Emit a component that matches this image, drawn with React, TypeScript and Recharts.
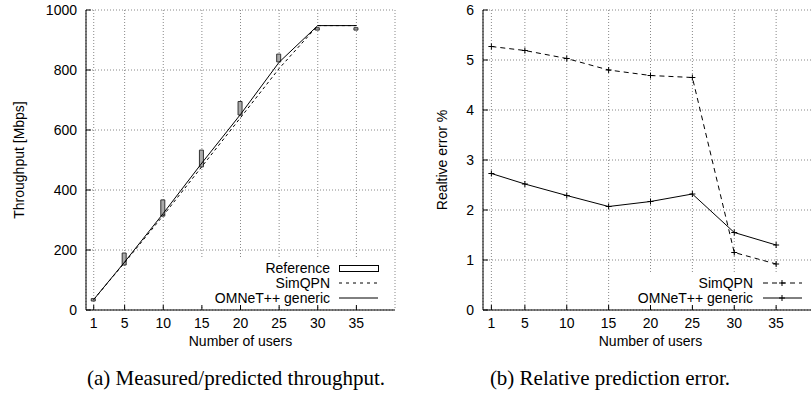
import React from "react";
import { ComposedChart, Line, Bar, XAxis, YAxis, CartesianGrid, Legend } from "recharts";

// number of users on the x axis
const users = [1, 5, 10, 15, 20, 25, 30, 35];

// measured throughput, min/max of the candlestick boxes [Mbps]
const referenceLow = [30, 150, 313, 477, 650, 827, 933, 933];
const referenceHigh = [38, 190, 367, 533, 695, 853, 941, 941];

// predicted throughput [Mbps]
const simqpnThroughput = [35, 158, 315, 478, 641, 805, 948, 948];
const omnetThroughput = [35, 160, 322, 490, 652, 826, 948, 948];

// relative prediction error [%]
const simqpnError = [5.27, 5.19, 5.03, 4.8, 4.69, 4.65, 1.15, 0.92];
const omnetError = [2.73, 2.52, 2.29, 2.07, 2.17, 2.32, 1.55, 1.3];

const xTicks = [1, 5, 10, 15, 20, 25, 30, 35];
const throughputTicks = [0, 200, 400, 600, 800, 1000];
const errorTicks = [0, 1, 2, 3, 4, 5, 6];

const SANS = "'Liberation Sans', Arial, Helvetica, sans-serif";
const SERIF = "'Liberation Serif', 'Times New Roman', serif";

const throughputData = users.map((u, i) => ({
  users: u,
  reference: [referenceLow[i], referenceHigh[i]],
  simqpn: simqpnThroughput[i],
  omnet: omnetThroughput[i],
}));

const errorData = users.map((u, i) => ({
  users: u,
  simqpn: simqpnError[i],
  omnet: omnetError[i],
}));

const tickStyle = { fill: "#000", fontSize: 14, fontFamily: SANS };

const PlusDot = (props: any) => {
  const { cx, cy, index } = props;
  if (cx == null || cy == null) return <g key={index} />;
  return (
    <path
      key={index}
      d={`M${cx - 3},${cy}h6M${cx},${cy - 3}v6`}
      stroke="#000"
      strokeWidth={1}
      fill="none"
    />
  );
};

// gnuplot style key: white box, text right aligned, sample on the right
const ThroughputKey = () => (
  <svg width={214} height={46} style={{ display: "block", overflow: "visible" }}>
    <g fontFamily={SANS} fontSize={14} fill="#000" textAnchor="end">
      <text x={150} y={9} dominantBaseline="central">Reference</text>
      <text x={150} y={24} dominantBaseline="central">SimQPN</text>
      <text x={150} y={39} dominantBaseline="central">OMNeT++ generic</text>
    </g>
    <rect x={159.5} y={6.5} width={39} height={6} fill="none" stroke="#000" />
    <line x1={159} x2={198} y1={24} y2={24} stroke="#000" strokeDasharray="3 4" />
    <line x1={159} x2={198} y1={39} y2={39} stroke="#000" />
  </svg>
);

const ErrorKey = () => (
  <svg width={200} height={31} style={{ display: "block", overflow: "visible" }}>
    <g fontFamily={SANS} fontSize={14} fill="#000" textAnchor="end">
      <text x={128} y={9} dominantBaseline="central">SimQPN</text>
      <text x={128} y={24} dominantBaseline="central">OMNeT++ generic</text>
    </g>
    <line x1={138} x2={177} y1={9} y2={9} stroke="#000" strokeDasharray="5 4" />
    <path d="M154,9h6M157,6v6" stroke="#000" />
    <line x1={138} x2={177} y1={24} y2={24} stroke="#000" />
    <path d="M154,24h6M157,21v6" stroke="#000" />
  </svg>
);

function ThroughputChart() {
  return (
    <ComposedChart
      width={400}
      height={360}
      data={throughputData}
      margin={{ top: 10, right: 5, bottom: 20, left: 0 }}
    >
      <CartesianGrid stroke="#888" strokeDasharray="1 2" />
      <XAxis
        type="number"
        dataKey="users"
        domain={[0, 40]}
        ticks={xTicks}
        interval={0}
        allowDataOverflow
        height={30}
        tickSize={-5}
        tickMargin={13}
        stroke="#000"
        tick={tickStyle}
        label={{
          content: () => (
            <text x={240.5} y={341} textAnchor="middle" dominantBaseline="central" fontFamily={SANS} fontSize={14}>
              Number of users
            </text>
          ),
        }}
      />
      <XAxis
        xAxisId="top"
        orientation="top"
        type="number"
        domain={[0, 40]}
        ticks={xTicks}
        interval={0}
        allowDataOverflow
        height={0}
        tickSize={-5}
        tick={false}
        stroke="#000"
      />
      <YAxis
        type="number"
        domain={[0, 1000]}
        ticks={throughputTicks}
        interval={0}
        allowDataOverflow
        width={86}
        tickSize={-5}
        tickMargin={14}
        stroke="#000"
        tick={tickStyle}
        label={{
          content: () => (
            <text
              x={19}
              y={160}
              transform="rotate(-90 19 160)"
              textAnchor="middle"
              dominantBaseline="central"
              fontFamily={SANS}
              fontSize={14}
            >
              Throughput [Mbps]
            </text>
          ),
        }}
      />
      <YAxis
        yAxisId="right"
        orientation="right"
        type="number"
        domain={[0, 1000]}
        ticks={throughputTicks}
        interval={0}
        allowDataOverflow
        width={0}
        tickSize={-5}
        tick={false}
        stroke="#000"
      />
      <Bar
        dataKey="reference"
        barSize={4}
        fill="#aaa"
        stroke="#333"
        strokeWidth={1}
        isAnimationActive={false}
      />
      <Line
        type="linear"
        dataKey="simqpn"
        stroke="#000"
        strokeWidth={1}
        strokeDasharray="3 3"
        dot={false}
        isAnimationActive={false}
      />
      <Line
        type="linear"
        dataKey="omnet"
        stroke="#000"
        strokeWidth={1}
        dot={false}
        isAnimationActive={false}
      />
      <Legend
        layout="horizontal"
        align="center"
        verticalAlign="middle"
        content={() => <ThroughputKey />}
        wrapperStyle={{ left: 180, top: 259, width: 214, height: 46, background: "#fff" }}
      />
    </ComposedChart>
  );
}

function ErrorChart() {
  return (
    <ComposedChart
      width={420}
      height={360}
      data={errorData}
      margin={{ top: 10, right: 2, bottom: 20, left: 0 }}
    >
      <CartesianGrid stroke="#888" strokeDasharray="1 2" />
      <XAxis
        type="number"
        dataKey="users"
        domain={[0, 40]}
        ticks={xTicks}
        interval={0}
        allowDataOverflow
        height={30}
        tickSize={-5}
        tickMargin={13}
        stroke="#000"
        tick={tickStyle}
        label={{
          content: () => (
            <text x={250.5} y={341} textAnchor="middle" dominantBaseline="central" fontFamily={SANS} fontSize={14}>
              Number of users
            </text>
          ),
        }}
      />
      <XAxis
        xAxisId="top"
        orientation="top"
        type="number"
        domain={[0, 40]}
        ticks={xTicks}
        interval={0}
        allowDataOverflow
        height={0}
        tickSize={-5}
        tick={false}
        stroke="#000"
      />
      <YAxis
        type="number"
        domain={[0, 6]}
        ticks={errorTicks}
        interval={0}
        allowDataOverflow
        width={83}
        tickSize={-5}
        tickMargin={14}
        stroke="#000"
        tick={tickStyle}
        label={{
          content: () => (
            <text
              x={42}
              y={160}
              transform="rotate(-90 42 160)"
              textAnchor="middle"
              dominantBaseline="central"
              fontFamily={SANS}
              fontSize={14}
            >
              Realtive error %
            </text>
          ),
        }}
      />
      <YAxis
        yAxisId="right"
        orientation="right"
        type="number"
        domain={[0, 6]}
        ticks={errorTicks}
        interval={0}
        allowDataOverflow
        width={0}
        tickSize={-5}
        tick={false}
        stroke="#000"
      />
      <Line
        type="linear"
        dataKey="simqpn"
        stroke="#000"
        strokeWidth={1}
        strokeDasharray="5 4"
        dot={PlusDot}
        isAnimationActive={false}
      />
      <Line
        type="linear"
        dataKey="omnet"
        stroke="#000"
        strokeWidth={1}
        dot={PlusDot}
        isAnimationActive={false}
      />
      <Legend
        layout="horizontal"
        align="center"
        verticalAlign="middle"
        content={() => <ErrorKey />}
        wrapperStyle={{ left: 225, top: 274, width: 200, height: 31, background: "#fff" }}
      />
    </ComposedChart>
  );
}

export default function App() {
  return (
    <div
      style={{
        position: "absolute",
        left: 0,
        top: 0,
        width: 811,
        height: 400,
        overflow: "hidden",
        background: "#fff",
      }}
    >
      <div style={{ position: "absolute", left: 0, top: 0 }}>
        <ThroughputChart />
      </div>
      <div style={{ position: "absolute", left: 400, top: 0 }}>
        <ErrorChart />
      </div>
      <div
        style={{
          position: "absolute",
          left: 236 - 200,
          width: 400,
          top: 368,
          textAlign: "center",
          fontFamily: SERIF,
          fontSize: 21,
          lineHeight: "21px",
          color: "#000",
          whiteSpace: "nowrap",
        }}
      >
        (a) Measured/predicted throughput.
      </div>
      <div
        style={{
          position: "absolute",
          left: 610 - 200,
          width: 400,
          top: 368,
          textAlign: "center",
          fontFamily: SERIF,
          fontSize: 21,
          lineHeight: "21px",
          color: "#000",
          whiteSpace: "nowrap",
        }}
      >
        (b) Relative prediction error.
      </div>
    </div>
  );
}
